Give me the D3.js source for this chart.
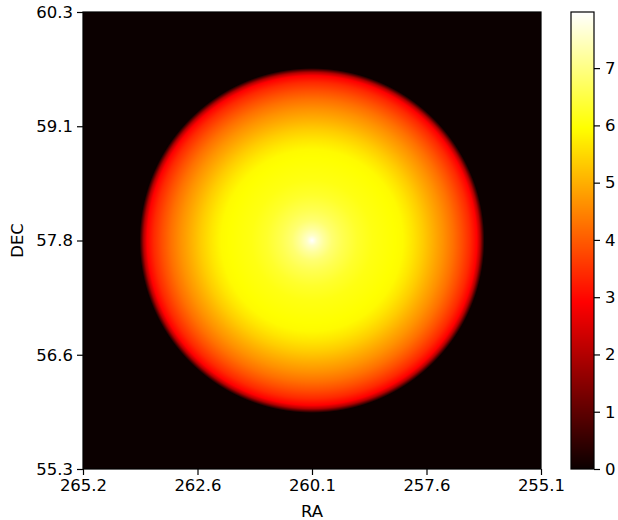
<!DOCTYPE html>
<html>
<head>
<meta charset="utf-8">
<script src="https://cdn.jsdelivr.net/npm/d3@7"></script>
<style>
  body { margin: 0; background: #fff; }
  svg text { font-family: "DejaVu Sans", sans-serif; fill: #000; }
</style>
</head>
<body>
<div id="graph"></div>
<script>
// axis ticks (evenly spaced, labels as printed)
var raTickValues = [265.2, 262.675, 260.15, 257.625, 255.1];
var raTickLabels = ["265.2", "262.6", "260.1", "257.6", "255.1"];
var decTickValues = [55.3, 56.55, 57.8, 59.05, 60.3];
var decTickLabels = ["55.3", "56.6", "57.8", "59.1", "60.3"];
var colorTicks = [0, 1, 2, 3, 4, 5, 6, 7];

// disk: centre and radius (deg)
var diskCenter = [260.15, 57.8];
var diskRadius = [3.71, 1.84];

// radial profile: r / radius -> value
var profileR = [0, 0.03, 0.07, 0.12, 0.18, 0.27, 0.36, 0.45, 0.54, 0.60, 0.66, 0.72, 0.78, 0.84, 0.89, 0.94, 0.98, 1.0, 1.025];
var profileV = [7.98, 7.55, 7.2, 6.85, 6.6, 6.3, 6.1, 6.0, 5.9, 5.65, 5.35, 5.0, 4.65, 4.25, 3.85, 3.4, 2.9, 2.0, 0];
var valueRange = [0, 7.98];

var width = 618, height = 520;
var margin = { top: 12, left: 83 };
var plotWidth = 458, plotHeight = 457;
var cbarLeft = 571, cbarWidth = 23;

var xScale = d3.scaleLinear().domain([265.2, 255.1]).range([0, plotWidth]);
var yScale = d3.scaleLinear().domain([55.3, 60.3]).range([plotHeight, 0]);
var profile = d3.scaleLinear().domain(profileR).range(profileV).clamp(true);

// matplotlib "hot"
function hot(t) {
  var r = Math.min(1, 0.0416 + t / 0.365079 * (1 - 0.0416));
  var g = Math.max(0, Math.min(1, (t - 0.365079) / (0.746032 - 0.365079)));
  var b = Math.max(0, Math.min(1, (t - 0.746032) / (1 - 0.746032)));
  return [r * 255, g * 255, b * 255];
}
var color = d3.scaleSequential(hot).domain(valueRange);

var svg = d3.select("#graph").append("svg")
  .attr("width", width)
  .attr("height", height);

function paint(w, h, valueAt) {
  var canvas = document.createElement("canvas");
  canvas.width = w;
  canvas.height = h;
  var ctx = canvas.getContext("2d");
  var img = ctx.createImageData(w, h);
  for (var j = 0; j < h; j++) {
    for (var i = 0; i < w; i++) {
      var c = color(valueAt(i + 0.5, j + 0.5));
      var k = (j * w + i) * 4;
      img.data[k] = c[0];
      img.data[k + 1] = c[1];
      img.data[k + 2] = c[2];
      img.data[k + 3] = 255;
    }
  }
  ctx.putImageData(img, 0, 0);
  return canvas.toDataURL();
}

function drawImage() {
  var plot = svg.append("g")
    .attr("transform", "translate(" + [margin.left, margin.top] + ")");

  var href = paint(plotWidth, plotHeight, function(px, py) {
    var ra = xScale.invert(px), dec = yScale.invert(py);
    var r = Math.hypot((ra - diskCenter[0]) / diskRadius[0], (dec - diskCenter[1]) / diskRadius[1]);
    return r > profileR[profileR.length - 1] ? 0 : profile(r);
  });

  plot.append("image")
    .attr("width", plotWidth)
    .attr("height", plotHeight)
    .attr("preserveAspectRatio", "none")
    .attr("href", href);

  var xAxis = d3.axisBottom(xScale)
    .tickValues(raTickValues)
    .tickFormat(function(d, i) { return raTickLabels[i]; })
    .tickSize(6).tickPadding(4);
  var yAxis = d3.axisLeft(yScale)
    .tickValues(decTickValues)
    .tickFormat(function(d, i) { return decTickLabels[i]; })
    .tickSize(6).tickPadding(4);

  plot.append("g")
    .attr("class", "axis x")
    .attr("transform", "translate(0," + plotHeight + ")")
    .call(xAxis);
  plot.append("g")
    .attr("class", "axis y")
    .call(yAxis);

  plot.append("rect")
    .attr("width", plotWidth)
    .attr("height", plotHeight)
    .attr("fill", "none")
    .attr("stroke", "#000")
    .attr("stroke-width", 1.2);

  svg.append("text")
    .attr("x", margin.left + plotWidth / 2)
    .attr("y", 517)
    .attr("text-anchor", "middle")
    .attr("font-size", 16.5)
    .text("RA");

  svg.append("text")
    .attr("transform", "translate(" + [23, margin.top + plotHeight / 2] + ")rotate(-90)")
    .attr("text-anchor", "middle")
    .attr("font-size", 16.5)
    .text("DEC");
}

function drawColorbar() {
  var cScale = d3.scaleLinear().domain(valueRange).range([plotHeight, 0]);
  var cbar = svg.append("g")
    .attr("transform", "translate(" + [cbarLeft, margin.top] + ")");

  var href = paint(1, plotHeight, function(px, py) {
    return cScale.invert(py);
  });

  cbar.append("image")
    .attr("width", cbarWidth)
    .attr("height", plotHeight)
    .attr("preserveAspectRatio", "none")
    .attr("href", href);

  cbar.append("rect")
    .attr("width", cbarWidth)
    .attr("height", plotHeight)
    .attr("fill", "none")
    .attr("stroke", "#000")
    .attr("stroke-width", 1.2);

  cbar.append("g")
    .attr("class", "axis c")
    .attr("transform", "translate(" + cbarWidth + ",0)")
    .call(d3.axisRight(cScale).tickValues(colorTicks).tickSize(6).tickPadding(5));
}

drawImage();
drawColorbar();

svg.selectAll(".axis .domain").remove();
svg.selectAll(".axis line").attr("stroke", "#000").attr("stroke-width", 1.2);
svg.selectAll(".axis text")
  .attr("font-family", "DejaVu Sans, sans-serif")
  .attr("font-size", 16.5)
  .attr("fill", "#000");
</script>
</body>
</html>
